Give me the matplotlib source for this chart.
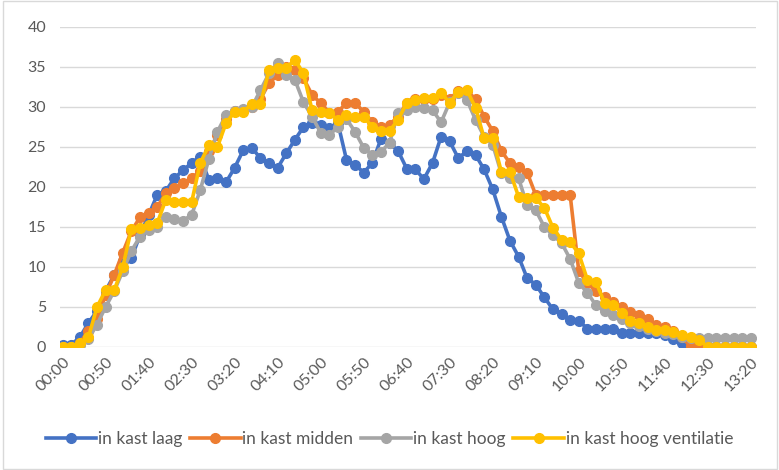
import numpy as np
import matplotlib
matplotlib.use('Agg')
import matplotlib.pyplot as plt
from matplotlib.patches import Rectangle

plt.rcParams['font.family'] = ['Lato', 'DejaVu Sans']

# time axis: every 10 minutes from 00:00 to 13:20
times = [f"{m // 60:02d}:{m % 60:02d}" for m in range(0, 810, 10)]

kast_laag = [0.2, 0.3, 1.2, 3.0, 4.5, 7.0, 9.0, 10.8, 11.1, 14.0,
             16.5, 19.0, 19.5, 21.1, 22.1, 23.0, 23.8, 20.9, 21.1, 20.6,
             22.4, 24.6, 24.9, 23.6, 23.0, 22.4, 24.2, 25.9, 27.5, 28.0,
             27.8, 27.4, 28.0, 23.4, 22.8, 21.8, 23.0, 26.0, 25.5, 24.5,
             22.3, 22.2, 21.0, 23.0, 26.3, 25.7, 23.6, 24.5, 24.0, 22.2,
             19.7, 16.3, 13.3, 11.3, 8.6, 7.8, 6.2, 4.7, 4.1, 3.4,
             3.3, 2.3, 2.3, 2.3, 2.3, 1.8, 1.8, 1.8, 1.8, 1.7,
             1.5, 1.0, 0.5, 0.2, 0.0, 0.0, 0.0, 0.0, 0.0, 0.0, 0.0]

kast_midden = [0.0, 0.0, 0.5, 2.0, 3.5, 6.5, 9.0, 11.8, 14.5, 16.2,
               16.8, 17.5, 19.2, 19.9, 20.5, 21.1, 22.0, 24.5, 26.5, 28.5,
               29.5, 29.6, 30.0, 31.0, 33.0, 34.0, 35.0, 34.6, 33.6, 31.5,
               30.5, 29.3, 29.4, 30.5, 30.5, 29.4, 28.1, 27.5, 27.8, 28.8,
               30.5, 31.0, 31.0, 31.0, 31.5, 31.0, 32.0, 32.0, 31.0, 28.8,
               27.0, 24.5, 23.0, 22.5, 21.8, 19.0, 19.0, 19.0, 19.0, 19.0,
               9.5, 8.0, 7.0, 6.3, 5.6, 5.0, 4.4, 4.0, 3.5, 2.8,
               2.5, 2.0, 1.2, 0.1, 0.0, 0.0, 0.0, 0.0, 0.0, 0.0, 0.0]

kast_hoog = [0.0, 0.0, 0.3, 1.0, 2.8, 5.0, 7.0, 9.5, 12.0, 13.8,
             14.6, 15.0, 16.3, 16.0, 15.8, 16.5, 19.6, 23.5, 26.9, 29.0,
             29.5, 29.7, 30.0, 32.1, 34.2, 35.5, 34.0, 33.4, 30.6, 28.8,
             26.8, 26.5, 27.5, 28.5, 26.9, 24.9, 24.0, 24.4, 25.5, 29.3,
             29.6, 30.0, 29.9, 29.6, 28.1, 30.6, 31.8, 30.9, 28.4, 26.3,
             25.3, 21.7, 21.1, 21.1, 17.7, 17.1, 15.0, 14.0, 13.0, 11.0,
             8.0, 6.8, 5.2, 4.5, 4.0, 3.5, 3.0, 2.6, 2.3, 2.0,
             1.8, 1.6, 1.3, 1.1, 1.1, 1.1, 1.1, 1.1, 1.1, 1.1, 1.1]

kast_hoog_vent = [0.0, 0.0, 0.5, 1.2, 5.0, 7.1, 7.1, 10.0, 14.8, 14.9,
                  15.3, 15.5, 18.4, 18.1, 18.1, 18.1, 23.0, 25.2, 25.0, 28.0,
                  29.4, 29.4, 30.4, 30.4, 34.6, 34.9, 34.9, 35.9, 34.2, 29.6,
                  29.4, 29.2, 28.4, 29.0, 28.8, 28.8, 27.5, 27.0, 27.0, 28.4,
                  30.5, 30.9, 31.1, 31.1, 31.8, 30.5, 31.9, 32.1, 29.9, 26.1,
                  26.1, 21.9, 21.9, 18.8, 18.6, 18.6, 17.4, 14.9, 13.4, 13.1,
                  11.7, 8.4, 8.1, 5.5, 5.3, 4.3, 3.2, 3.0, 2.5, 2.1,
                  2.1, 1.9, 1.5, 1.3, 0.9, 0.0, 0.0, 0.0, 0.0, 0.0, 0.0]

series = [
    ("in kast laag", kast_laag, "#4472C4"),
    ("in kast midden", kast_midden, "#ED7D31"),
    ("in kast hoog", kast_hoog, "#A5A5A5"),
    ("in kast hoog ventilatie", kast_hoog_vent, "#FFC000"),
]

fig = plt.figure(figsize=(7.79, 4.70), dpi=100)
ax = fig.add_axes([60 / 779, 1 - 347 / 470, 696 / 779, 320 / 470])

x = np.arange(len(times))
for name, vals, col in series:
    ax.plot(x, vals, '-o', color=col, lw=2.6, ms=7, label=name, zorder=3)

ax.set_ylim(0, 40)
ax.set_yticks(range(0, 41, 5))
ax.set_xlim(-0.3, 80.6)
ax.set_xticks(x[::5])
ax.set_xticklabels(times[::5], rotation=45, ha='right', va='top',
                   rotation_mode='anchor')
ax.grid(axis='y', color='#d9d9d9', lw=1)
ax.set_axisbelow(True)
for s in ax.spines.values():
    s.set_visible(False)
ax.tick_params(length=0, labelsize=11.5, colors='#595959', pad=10)
ax.tick_params(axis='x', pad=6)

fig.legend(loc='center', bbox_to_anchor=(0.5, 1 - 439 / 470), ncol=4,
           frameon=False, fontsize=12.5, labelcolor='#595959',
           handlelength=2.9, handletextpad=0.1, columnspacing=0.45)

fig.patches.append(Rectangle((0.004, 0.002), 0.994, 0.996, transform=fig.transFigure,
                             fill=False, ec='#d9d9d9', lw=1))

fig.savefig('out.png', dpi=100)
